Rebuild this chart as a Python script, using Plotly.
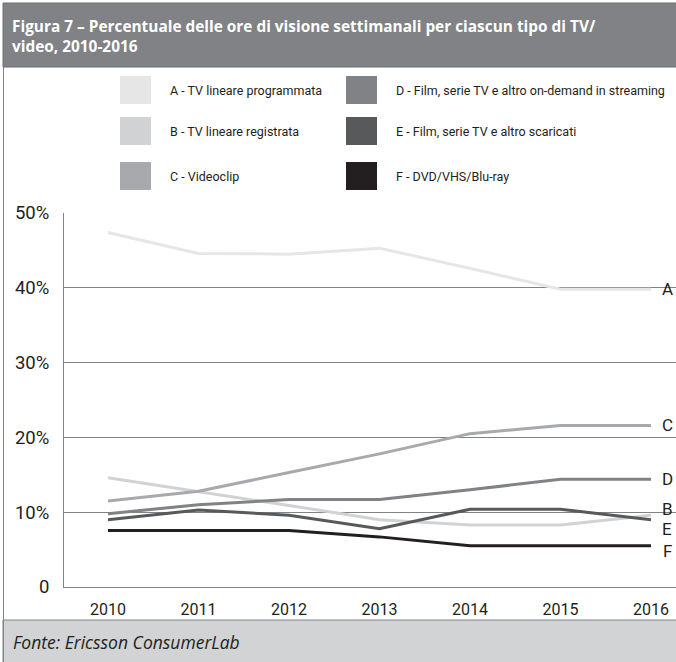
import plotly.graph_objects as go

# Weekly viewing share by TV/video type, 2010-2016 (percent)
years = [2010, 2011, 2012, 2013, 2014, 2015, 2016]
series_keys = ["A", "B", "C", "D", "E", "F"]
series_names = [
    "A - TV lineare programmata",
    "B - TV lineare registrata",
    "C - Videoclip",
    "D - Film, serie TV e altro on-demand in streaming",
    "E - Film, serie TV e altro scaricati",
    "F - DVD/VHS/Blu-ray",
]
a_values = [47.4, 44.6, 44.5, 45.3, 42.6, 39.8, 39.8]
b_values = [14.6, 12.8, 10.9, 9.0, 8.3, 8.3, 9.6]
c_values = [11.5, 12.8, 15.3, 17.8, 20.5, 21.6, 21.6]
d_values = [9.8, 11.0, 11.7, 11.7, 13.0, 14.4, 14.4]
e_values = [9.0, 10.3, 9.6, 7.8, 10.4, 10.4, 9.0]
f_values = [7.55, 7.55, 7.55, 6.7, 5.5, 5.5, 5.5]
y_tick_values = [0, 10, 20, 30, 40, 50]
y_tick_labels = ["0", "10%", "20%", "30%", "40%", "50%"]

all_values = [a_values, b_values, c_values, d_values, e_values, f_values]
colors = ["#e6e6e7", "#d1d2d4", "#a7a9ac", "#808285", "#58595b", "#231f20"]
# vertical nudges (px) for the end labels so B/E/F don't collide
label_shift = [0, 6, 0, 0, -9, -5]

W, H = 676, 662
PL, PR, PT, PB = 64, 0, 213, 75
plot_w = W - PL - PR
plot_h = H - PT - PB


def px(x):
    return (x - PL) / plot_w


def py(y):
    return (H - PB - y) / plot_h


grid_col = "#808285"
text_col = "#231f20"
cond_font = "Liberation Sans Narrow, Roboto, sans-serif"

fig = go.Figure()
for name, vals, col in zip(series_names, all_values, colors):
    fig.add_trace(go.Scatter(
        x=years, y=vals, mode="lines", name=name,
        line=dict(color=col, width=3),
        showlegend=False, hoverinfo="x+y+name",
    ))

shapes = []
annotations = []

# title band
shapes.append(dict(type="rect", xref="paper", yref="paper",
                   x0=px(3), x1=px(W + 2), y0=py(67), y1=py(3),
                   fillcolor="#808285", line=dict(color="#6d6e71", width=1), layer="below"))
annotations.append(dict(
    xref="paper", yref="paper", x=px(10), y=py(36), xanchor="left", yanchor="middle",
    align="left", showarrow=False,
    text="Figura 7 – Percentuale delle ore di visione settimanali per ciascun tipo di TV/<br>video, 2010-2016",
    font=dict(family="Open Sans, sans-serif", size=15.4, color="white", weight=700),
))

# outer frame on the left side
shapes.append(dict(type="line", xref="paper", yref="paper",
                   x0=px(3.5), x1=px(3.5), y0=py(67), y1=py(H),
                   line=dict(color="#808285", width=1)))

# source footer
shapes.append(dict(type="rect", xref="paper", yref="paper",
                   x0=px(3), x1=px(W + 2), y0=py(H + 2), y1=py(620),
                   fillcolor="#d1d3d4", line=dict(color="#808285", width=1), layer="below"))
annotations.append(dict(
    xref="paper", yref="paper", x=px(11), y=py(642), xanchor="left", yanchor="middle",
    showarrow=False, text="Fonte: Ericsson ConsumerLab",
    font=dict(family="Open Sans, sans-serif", size=17.5, color=text_col, style="italic"),
))

# legend: two columns of square swatches with labels
col_x = [120, 346]
row_y = [90, 131, 176]
for i, (name, col) in enumerate(zip(series_names, colors)):
    cx = col_x[i // 3]
    cy = row_y[i % 3]
    shapes.append(dict(type="rect", xref="paper", yref="paper",
                       x0=px(cx), x1=px(cx + 31), y0=py(cy + 14), y1=py(cy - 14),
                       fillcolor=col, line=dict(width=0)))
    annotations.append(dict(
        xref="paper", yref="paper", x=px(cx + 48), y=py(cy), xanchor="left", yanchor="middle",
        showarrow=False, text=name,
        font=dict(family=cond_font, size=12.5, color=text_col),
    ))

# end-of-line series letters
for key, vals, dy in zip(series_keys, all_values, label_shift):
    annotations.append(dict(
        xref="x", yref="y", x=years[-1], y=vals[-1], xanchor="center", yanchor="middle",
        xshift=16, yshift=dy, showarrow=False, text=key,
        font=dict(family=cond_font, size=17, color=text_col),
    ))

fig.update_layout(
    width=W, height=H,
    margin=dict(l=PL, r=PR, t=PT, b=PB, pad=0),
    paper_bgcolor="white", plot_bgcolor="white",
    shapes=shapes, annotations=annotations,
    showlegend=False,
    xaxis=dict(
        range=[2009.514, 2016.276], tickvals=years, ticktext=[str(y) for y in years],
        showgrid=False, zeroline=False, showline=True, linecolor=grid_col, linewidth=1,
        ticks="", tickfont=dict(family=cond_font, size=16, color=text_col),
        ticklabelstandoff=8, fixedrange=True,
    ),
    yaxis=dict(
        range=[0, 50], tickvals=y_tick_values, ticktext=y_tick_labels,
        showgrid=True, gridcolor=grid_col, gridwidth=1, zeroline=False,
        showline=True, linecolor=grid_col, linewidth=1, ticks="",
        tickfont=dict(family=cond_font, size=18.5, color=text_col),
        ticklabelstandoff=10, fixedrange=True,
    ),
)

fig.write_html("out.html")
